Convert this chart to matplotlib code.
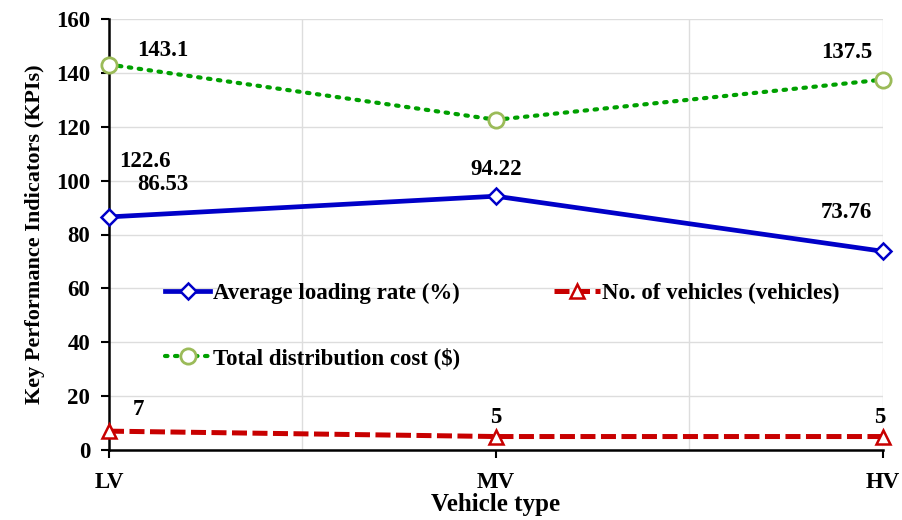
import matplotlib
matplotlib.use("Agg")
import matplotlib.pyplot as plt

plt.rcParams['font.family'] = ['Liberation Serif', 'DejaVu Serif']
plt.rcParams['font.weight'] = 'bold'

categories = ["LV", "MV", "HV"]
loading_rate = [86.53, 94.22, 73.76]
num_vehicles = [7, 5, 5]
total_cost = [143.1, 122.6, 137.5]
loading_labels = ["86.53", "94.22", "73.76"]
vehicle_labels = ["7", "5", "5"]
cost_labels = ["143.1", "122.6", "137.5"]
yticks = [0, 20, 40, 60, 80, 100, 120, 140, 160]

fig = plt.figure(figsize=(9.03, 5.2), dpi=100)
ax = fig.add_axes([109/903, 70/520, 774/903, 431/520])

x = list(range(len(categories)))
blue = "#0000C8"
red = "#C80000"
green = "#00A000"
olive = "#9BBB59"

l1, = ax.plot(x, loading_rate, color=blue, lw=3.4, marker="D", ms=8.5,
              mfc="white", mec=blue, mew=1.8, zorder=5, clip_on=False,
              label="Average loading rate (%)")
l2, = ax.plot(x, num_vehicles, color=red, lw=3.6, ls=(0, (3, 1.1)), marker="^", ms=10,
              mfc="white", mec=red, mew=1.8, zorder=5, clip_on=False,
              label="No. of vehicles (vehicles)")
l3, = ax.plot(x, total_cost, color=green, lw=3, ls=(0, (0.6, 1.8)), dash_capstyle="round",
              marker="o", ms=11, mfc="white", mec=olive, mew=2, zorder=5, clip_on=False,
              label="Total distribution cost ($)")

ax.set_xlim(0, 2)
ax.set_ylim(0, 160)
ax.set_yticks(yticks)
ax.set_xticks(x)
ax.set_xticklabels(categories)
ax.tick_params(axis="both", labelsize=16.5, direction="out", length=6, width=1.5)
ax.tick_params(axis="x", pad=10)
ax.tick_params(axis="y", pad=7.5)
for lbl in ax.get_xticklabels() + ax.get_yticklabels():
    lbl.set_fontweight("bold")

ax.grid(axis="y", color="#DDDDDD", lw=1)
for gx in [0.5, 1.5, 2.0]:
    ax.axvline(gx, color="#DDDDDD", lw=1, zorder=0)
ax.set_axisbelow(True)
for s in ["top", "right"]:
    ax.spines[s].set_visible(False)
for s in ["left", "bottom"]:
    ax.spines[s].set_linewidth(1.8)

ax.set_xlabel("Vehicle type", fontsize=18, fontweight="bold", labelpad=0)
ax.set_ylabel("Key Performance Indicators (KPIs)", fontsize=16, fontweight="bold", labelpad=8)

def px(dx, dy):
    return (dx * 0.72, -dy * 0.72)

lab_kw = dict(textcoords="offset points", ha="center", va="center", fontsize=16.5, fontweight="bold")
cost_off = [px(54, -14.5), px(-351, 42), px(-36, -27)]
load_off = [px(54, -32), px(0, -27), px(-37, -39)]
veh_off = [px(29, -22), px(0, -19), px(-3, -19)]
for i in x:
    ax.annotate(cost_labels[i], (x[i], total_cost[i]), xytext=cost_off[i], **lab_kw)
    ax.annotate(loading_labels[i], (x[i], loading_rate[i]), xytext=load_off[i], **lab_kw)
    ax.annotate(vehicle_labels[i], (x[i], num_vehicles[i]), xytext=veh_off[i], **lab_kw)

leg = ax.legend(handles=[l1, l3, l2], ncol=2, loc="upper left",
                bbox_to_anchor=(0.06, 0.41), frameon=False,
                prop={"family": "Liberation Serif", "weight": "bold", "size": 16.5},
                handlelength=2.0, handletextpad=0.1, columnspacing=4.1,
                labelspacing=1.9, borderaxespad=0)

fig.savefig("out.png", dpi=100)
